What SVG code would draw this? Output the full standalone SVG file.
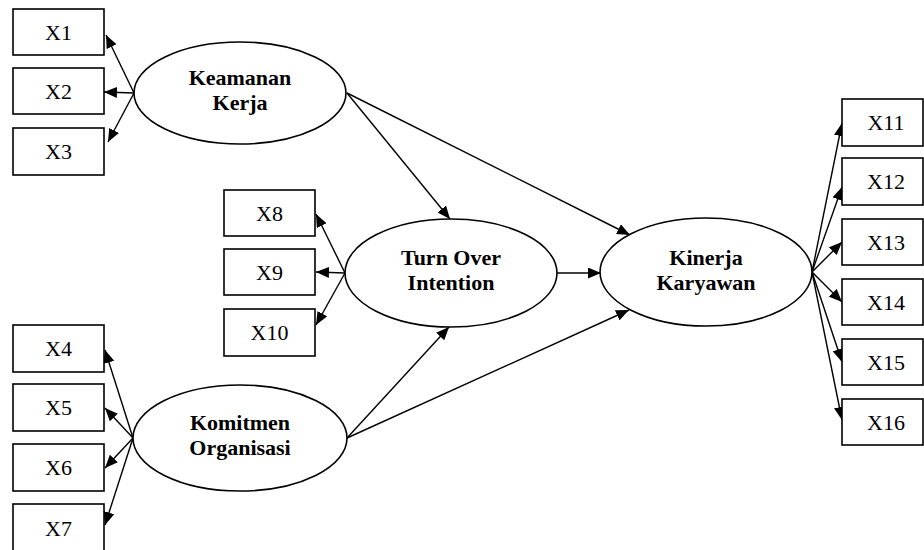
<svg xmlns="http://www.w3.org/2000/svg" width="924" height="550" viewBox="0 0 924 550">
  <style>
    .box { fill: #fff; stroke: #000; stroke-width: 1.6; }
    .latent { fill: #fff; stroke: #000; stroke-width: 1.6; }
    .ind { font-family: "Liberation Serif", "Times New Roman", serif; font-size: 22px; text-anchor: middle; fill: #000; }
    .lab { font-family: "Liberation Serif", "Times New Roman", serif; font-size: 22px; font-weight: bold; text-anchor: middle; fill: #000; }
    .edge { stroke: #000; stroke-width: 1.4; fill: none; marker-end: url(#arrow); }
  </style>
  <defs>
    <marker id="arrow" viewBox="0 0 13 11" refX="13" refY="5.5" markerWidth="13" markerHeight="11" markerUnits="userSpaceOnUse" orient="auto">
      <path d="M0,0 L13,5.5 L0,11 Z" fill="#000"/>
    </marker>
  </defs>
  <rect width="924" height="550" fill="#fff"/>

  <!-- paths between latent variables and their indicators -->
  <g id="connectors">
    <line class="edge" x1="134" y1="93" x2="106" y2="35"/>
    <line class="edge" x1="134" y1="93" x2="104" y2="92"/>
    <line class="edge" x1="134" y1="93" x2="108" y2="142"/>

    <line class="edge" x1="345" y1="273" x2="316" y2="214"/>
    <line class="edge" x1="345" y1="273" x2="316" y2="272"/>
    <line class="edge" x1="345" y1="273" x2="316" y2="325"/>

    <line class="edge" x1="133" y1="438" x2="105" y2="350"/>
    <line class="edge" x1="133" y1="438" x2="105" y2="408"/>
    <line class="edge" x1="133" y1="438" x2="105" y2="468"/>
    <line class="edge" x1="133" y1="438" x2="105" y2="525"/>

    <line class="edge" x1="812" y1="272" x2="842" y2="123"/>
    <line class="edge" x1="812" y1="272" x2="842" y2="187"/>
    <line class="edge" x1="812" y1="272" x2="842" y2="242"/>
    <line class="edge" x1="812" y1="272" x2="842" y2="302"/>
    <line class="edge" x1="812" y1="272" x2="842" y2="362"/>
    <line class="edge" x1="812" y1="272" x2="842" y2="420"/>

    <line class="edge" x1="347" y1="93" x2="450" y2="219"/>
    <line class="edge" x1="347" y1="93" x2="630" y2="235"/>
    <line class="edge" x1="347" y1="438" x2="449" y2="327"/>
    <line class="edge" x1="347" y1="438" x2="629" y2="310"/>
    <line class="edge" x1="557" y1="273" x2="601" y2="273"/>
  </g>

  <!-- latent variables -->
  <g id="keamanan-kerja">
    <ellipse class="latent" cx="240" cy="93" rx="106" ry="51"/>
    <text class="lab" x="240" y="85">Keamanan</text>
    <text class="lab" x="240" y="110">Kerja</text>
  </g>
  <g id="komitmen-organisasi">
    <ellipse class="latent" cx="240" cy="438" rx="107" ry="53"/>
    <text class="lab" x="240" y="430">Komitmen</text>
    <text class="lab" x="240" y="455">Organisasi</text>
  </g>
  <g id="turn-over-intention">
    <ellipse class="latent" cx="451" cy="273" rx="106" ry="54"/>
    <text class="lab" x="451" y="265">Turn Over</text>
    <text class="lab" x="451" y="290">Intention</text>
  </g>
  <g id="kinerja-karyawan">
    <ellipse class="latent" cx="706" cy="272" rx="106" ry="54"/>
    <text class="lab" x="706" y="265">Kinerja</text>
    <text class="lab" x="706" y="290">Karyawan</text>
  </g>

  <!-- indicators -->
  <g id="x1"><rect class="box" x="13" y="9" width="91" height="46"/><text class="ind" x="58.5" y="40">X1</text></g>
  <g id="x2"><rect class="box" x="13" y="68" width="91" height="46"/><text class="ind" x="58.5" y="99">X2</text></g>
  <g id="x3"><rect class="box" x="13" y="128" width="91" height="47"/><text class="ind" x="58.5" y="159">X3</text></g>

  <g id="x4"><rect class="box" x="13" y="325" width="91" height="47"/><text class="ind" x="58.5" y="356">X4</text></g>
  <g id="x5"><rect class="box" x="13" y="384" width="91" height="47"/><text class="ind" x="58.5" y="415">X5</text></g>
  <g id="x6"><rect class="box" x="13" y="444" width="91" height="47"/><text class="ind" x="58.5" y="475">X6</text></g>
  <g id="x7"><rect class="box" x="13" y="504" width="91" height="50"/><text class="ind" x="58.5" y="536">X7</text></g>

  <g id="x8"><rect class="box" x="224" y="190" width="91" height="46"/><text class="ind" x="269.5" y="221">X8</text></g>
  <g id="x9"><rect class="box" x="224" y="249" width="91" height="46"/><text class="ind" x="269.5" y="280">X9</text></g>
  <g id="x10"><rect class="box" x="224" y="309" width="91" height="47"/><text class="ind" x="269.5" y="340">X10</text></g>

  <g id="x11"><rect class="box" x="842" y="99" width="81" height="47"/><text class="ind" x="886" y="130">X11</text></g>
  <g id="x12"><rect class="box" x="842" y="158" width="81" height="47"/><text class="ind" x="886" y="189">X12</text></g>
  <g id="x13"><rect class="box" x="842" y="219" width="81" height="46"/><text class="ind" x="886" y="250">X13</text></g>
  <g id="x14"><rect class="box" x="842" y="279" width="81" height="46"/><text class="ind" x="886" y="310">X14</text></g>
  <g id="x15"><rect class="box" x="842" y="339" width="81" height="46"/><text class="ind" x="886" y="370">X15</text></g>
  <g id="x16"><rect class="box" x="842" y="399" width="81" height="46"/><text class="ind" x="886" y="430">X16</text></g>
</svg>
